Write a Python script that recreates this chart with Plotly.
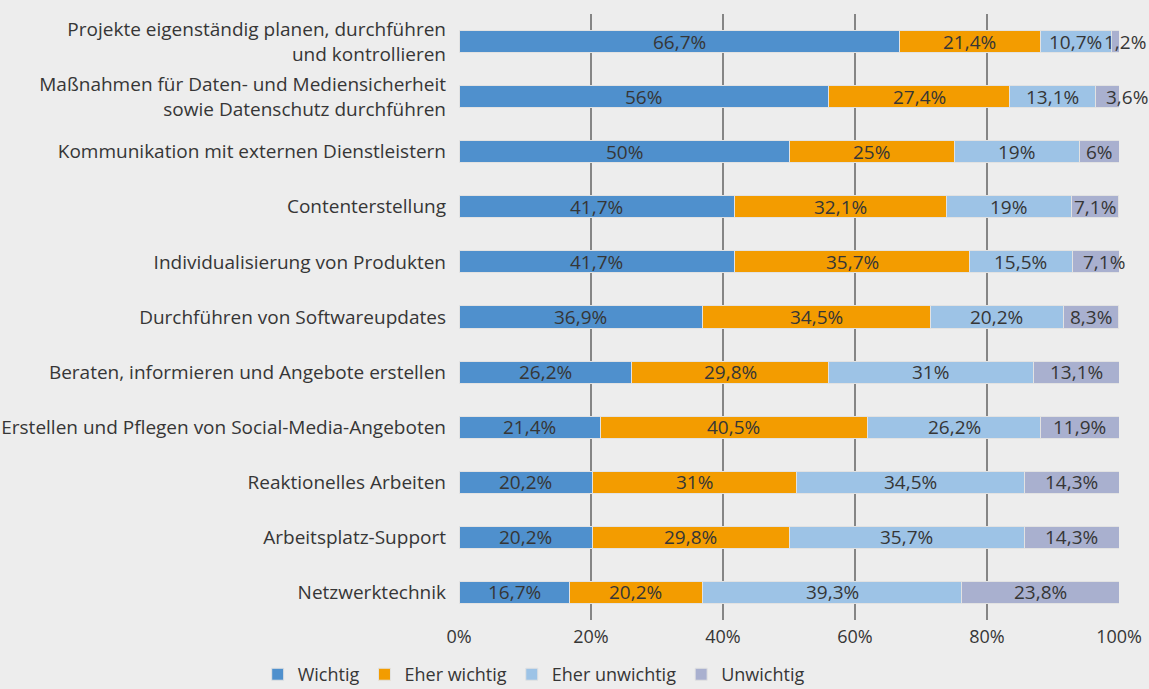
import plotly.graph_objects as go

categories = [
    "Projekte eigenständig planen, durchführen<br>und kontrollieren",
    "Maßnahmen für Daten- und Mediensicherheit<br>sowie Datenschutz durchführen",
    "Kommunikation mit externen Dienstleistern",
    "Contenterstellung",
    "Individualisierung von Produkten",
    "Durchführen von Softwareupdates",
    "Beraten, informieren und Angebote erstellen",
    "Erstellen und Pflegen von Social-Media-Angeboten",
    "Reaktionelles Arbeiten",
    "Arbeitsplatz-Support",
    "Netzwerktechnik",
]

wichtig = [66.7, 56, 50, 41.7, 41.7, 36.9, 26.2, 21.4, 20.2, 20.2, 16.7]
eher_wichtig = [21.4, 27.4, 25, 32.1, 35.7, 34.5, 29.8, 40.5, 31, 29.8, 20.2]
eher_unwichtig = [10.7, 13.1, 19, 19, 15.5, 20.2, 31, 26.2, 34.5, 35.7, 39.3]
unwichtig = [1.2, 3.6, 6, 7.1, 7.1, 8.3, 13.1, 11.9, 14.3, 14.3, 23.8]

series_names = ["Wichtig", "Eher wichtig", "Eher unwichtig", "Unwichtig"]
series_values = [wichtig, eher_wichtig, eher_unwichtig, unwichtig]
colors = ["#4f90cd", "#f39c00", "#9dc3e6", "#a9b0cf"]

tick_vals = [0, 20, 40, 60, 80, 100]
tick_text = ["0%", "20%", "40%", "60%", "80%", "100%"]

# pixel nudges for labels of narrow end segments (row index, series index)
label_shift = {(0, 3): 10, (1, 3): 19, (4, 3): 8}

def fmt(v):
    return ("%g" % v).replace(".", ",") + "%"

FONT = "Open Sans"
TXT = "#363636"

fig = go.Figure()
for name, vals, col in zip(series_names, series_values, colors):
    fig.add_trace(go.Bar(
        name=name, y=categories, x=vals, orientation="h",
        marker=dict(color=col, line=dict(color="#e2e2e2", width=1)),
        textposition="none", hoverinfo="skip",
    ))

annotations = []
cum = [0.0] * len(categories)
for si, vals in enumerate(series_values):
    for ci, v in enumerate(vals):
        mid = cum[ci] + v / 2.0
        annotations.append(dict(
            x=mid, y=categories[ci], xref="x", yref="y", text=fmt(v),
            showarrow=False, xanchor="center", yanchor="middle",
            xshift=label_shift.get((ci, si), 0),
            font=dict(family=FONT, size=19, color=TXT),
        ))
        cum[ci] += v

fig.update_layout(
    barmode="stack",
    bargap=0.6,
    width=1149, height=689,
    paper_bgcolor="#ededed", plot_bgcolor="#ededed",
    margin=dict(l=459, r=30, t=14, b=69, autoexpand=False),
    font=dict(family=FONT, size=18, color=TXT),
    annotations=annotations,
    legend=dict(orientation="h", x=-0.305, xanchor="left", y=-0.09, yanchor="middle",
                font=dict(family=FONT, size=18, color=TXT),
                itemwidth=30, traceorder="normal", bgcolor="rgba(0,0,0,0)"),
    xaxis=dict(range=[0, 100], tickvals=tick_vals, ticktext=tick_text,
               showgrid=True, gridcolor="#858585", gridwidth=2, zeroline=False,
               showline=False, ticks="", ticklabelstandoff=4,
               tickfont=dict(size=18, color=TXT)),
    yaxis=dict(autorange="reversed", showgrid=False, ticks="", ticklabelstandoff=12,
               tickfont=dict(size=19, color=TXT)),
)

fig.write_html("out.html", config={"displayModeBar": False},
               post_script="document.body.style.margin='0';")
